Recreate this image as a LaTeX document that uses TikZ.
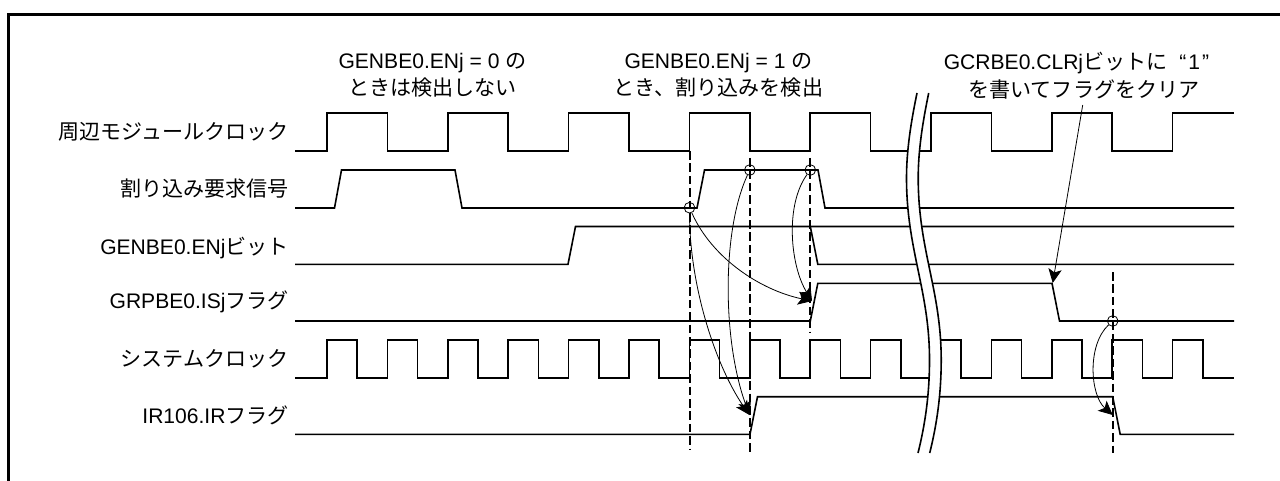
\documentclass[tikz,border=0pt]{standalone}
\usepackage{fontspec}
\setmainfont{Liberation Sans}
\newfontfamily\jp{Noto Sans CJK JP}
\usetikzlibrary{arrows.meta, positioning}
\tikzset{
    wave/.style={line width=1.2pt, line join=miter},
    breakline/.style={line width=1.2pt},
    edgeline/.style={line width=1.4pt, dash pattern=on 6.5pt off 2.8pt},
    sigtext/.style={anchor=east, inner sep=0pt, font=\fontsize{15.8}{18}\selectfont},
    note/.style={inner sep=0pt, align=center, font=\fontsize{15.8}{20.6}\selectfont},
    sensemark/.style={draw, circle, line width=0.6pt, minimum size=8pt, inner sep=0pt},
    senselink/.style={line width=0.6pt, -{Stealth[length=10.5pt, width=10pt, inset=2.5pt]}}
}
\begin{document}
\begin{tikzpicture}[x=0.75pt, y=-0.75pt]
        \useasboundingbox (0,0) rectangle (1280,481);
        % --- Frame ---
        \draw[line width=2.3pt] (8.5,481) -- (8.5,14.5) -- (1280,14.5);

        % --- Signal names ---
        \node[sigtext] (lblpclk) at (289,131.5) {\jp 周辺モジュールクロック};
        \node[sigtext] (lblreq) at (289,188.5) {\jp 割り込み要求信号};
        \node[sigtext] (lblen) at (289,248) {GENBE0.ENj{\jp ビット}};
        \node[sigtext] (lblis) at (289,302) {GRPBE0.ISj{\jp フラグ}};
        \node[sigtext] (lblsclk) at (289,358.5) {\jp システムクロック};
        \node[sigtext] (lblir) at (289,415) {IR106.IR{\jp フラグ}};

        % --- Notes ---
        \node[note] (noteoff) at (432.5,75.5) {GENBE0.ENj = 0 {\jp の}\\{\jp ときは検出しない}};
        \node[note] (noteon) at (718.5,75.5) {GENBE0.ENj = 1 {\jp の}\\{\jp とき、割り込みを検出}};
        \node[note] (noteclr) at (1076.5,75.5) {GCRBE0.CLRj{\jp ビットに}\hspace{9pt}“\kern1.5pt 1\kern1.5pt ”\\\hspace*{11pt}{\jp を書いてフラグをクリア}};

        % --- Peripheral clock ---
        \draw[wave] (295,151) foreach \n in {0,...,6} {
            -- ({327+120.8*\n},151) -- ({327+120.8*\n},113)
            -- ({387.4+120.8*\n},113) -- ({387.4+120.8*\n},151) }
            -- (1172.6,151) -- (1172.6,113) -- (1234,113);

        % --- Interrupt request ---
        \draw[wave] (295,208) -- (334.5,208) -- (341.5,170) -- (455,170) -- (462,208)
            -- (697,208) -- (704.5,170) -- (818,170) -- (825,208) -- (1234,208);

        % --- GENBE0.ENj ---
        \draw[wave] (295,264.3) -- (568,264.3) -- (575.5,226.5) -- (1234,226.5);
        \draw[wave] (810.3,226.5) -- (817.8,264.3) -- (1234,264.3);

        % --- GRPBE0.ISj ---
        \draw[wave] (295,321) -- (810.3,321) -- (817.8,283.3) -- (1052,283.3)
            -- (1059.5,321) -- (1234,321);

        % --- System clock ---
        \draw[wave] (295,377.7) foreach \n in {0,...,14} {
            -- ({327+60.4*\n},377.7) -- ({327+60.4*\n},340)
            -- ({357.2+60.4*\n},340) -- ({357.2+60.4*\n},377.7) }
            -- (1234,377.7);

        % --- IR106.IR ---
        \draw[wave] (295,434.3) -- (750,434.3) -- (757.5,396.7) -- (1112.7,396.7)
            -- (1120.2,434.3) -- (1234,434.3);

        % --- Break ---
        \fill[white] (917,93) .. controls (911,122) and (906.5,150) .. (906.5,178)
            .. controls (906.5,250) and (929.5,290) .. (929.5,360)
            .. controls (929.5,395) and (925,425) .. (918,453)
            -- (929.7,453) .. controls (936.7,425) and (941.2,395) .. (941.2,360)
            .. controls (941.2,290) and (918.2,250) .. (918.2,178)
            .. controls (918.2,150) and (922.7,122) .. (928.7,93) -- cycle;
        \foreach \dx in {0,11.7} {
            \draw[breakline, xshift=\dx*0.75pt] (917,93) .. controls (911,122) and (906.5,150) .. (906.5,178)
                .. controls (906.5,250) and (929.5,290) .. (929.5,360)
                .. controls (929.5,395) and (925,425) .. (918,453);
        }

        % --- Timing edges ---
        \draw[edgeline] (689.8,151) -- (689.8,449);
        \draw[edgeline] (749.8,158) -- (749.8,453);
        \draw[edgeline] (810.3,158) -- (810.3,333);
        \draw[edgeline] (1112.7,272) -- (1112.7,453);

        % --- Sampling points ---
        \node[sensemark] (sense1) at (689.5,207.7) {};
        \node[sensemark] (sense2) at (749.8,170) {};
        \node[sensemark] (sense3) at (810.3,170) {};
        \node[sensemark] (sense4) at (1112.7,321) {};
        \coordinate (isjset) at (812,301);
        \coordinate (isjclr) at (1052.7,283);
        \coordinate (irset) at (749.5,415);
        \coordinate (irclr) at (1112.7,415);
        \coordinate (clrstart) at (1082.7,105);

        % --- Arrows ---
        \draw[senselink] (sense1) .. controls (712,258) and (760,290) .. (isjset);
        \draw[senselink] (sense1) .. controls (689.5,285) and (715,365) .. (irset);
        \draw[senselink] (sense2) .. controls (722,230) and (722,340) .. (irset);
        \draw[senselink] (sense3) .. controls (785,205) and (790,265) .. (isjset);
        \draw[senselink] (sense4) .. controls (1087,345) and (1090,395) .. (irclr);
        \draw[senselink] (clrstart) -- (isjclr);
\end{tikzpicture}
\end{document}
